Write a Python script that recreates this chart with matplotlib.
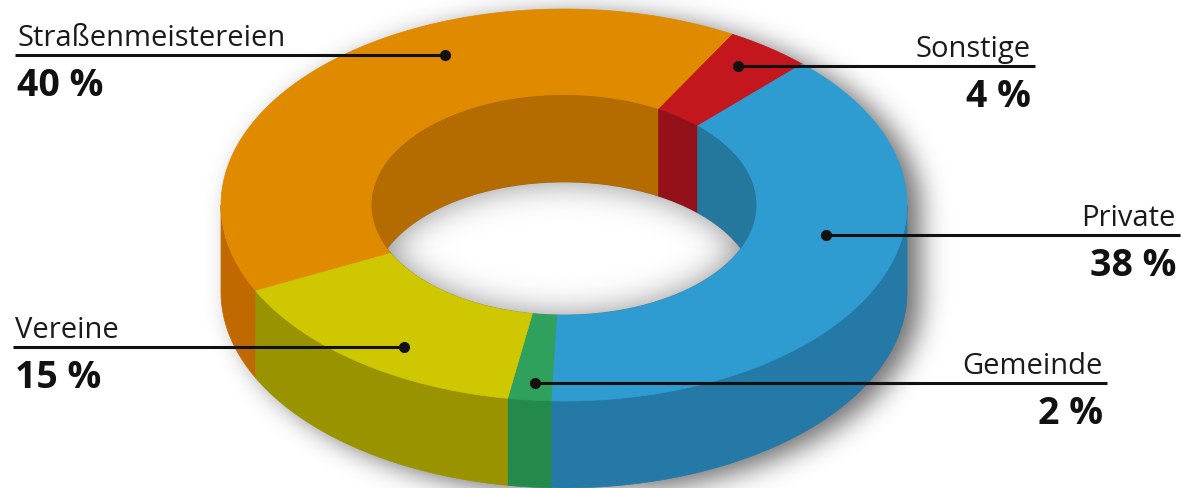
import numpy as np
import matplotlib.pyplot as plt
from matplotlib.patches import Polygon, Ellipse

plt.rcParams['font.family'] = ['Open Sans', 'DejaVu Sans']

# data
labels = ['Straßenmeistereien', 'Sonstige', 'Private', 'Gemeinde', 'Vereine']
values = [40, 4, 38, 2, 15]
pct_labels = ['40 %', '4 %', '38 %', '2 %', '15 %']
top_colors = ['#e08a00', '#c4161d', '#2e9bd1', '#2fa15d', '#cfc800']
side_colors = ['#c06900', '#9c1216', '#2479a7', '#238a4b', '#9a9300']
wall_colors = ['#b46c00', '#95111a', '#24789e', '#238a4b', '#9a9300']

# label layout: position of the dot inside the slice (fraction of slice, radius),
# line end x, side of text
dot_frac = [0.63, 0.42, 0.415, 0.44, 0.43]
dot_rad = [0.84, 0.87, 0.78, 0.91, 0.86]
line_end = [15, 1035, 1180, 1107, 13]
text_side = ['left', 'right', 'right', 'right', 'left']

W, H = 1182, 489
cx, cy = 564, 206
RX, RY = 343, 196
rin = 0.561
depth = 87
start = 206


def pt(ang, r, drop=0.0):
    a = np.radians(ang)
    return np.column_stack([cx + r * RX * np.cos(a), cy - r * RY * np.sin(a) + drop])


def clip_range(a0, a1, lo, hi):
    s, e = min(a0, hi), max(a1, lo)
    return (s, e) if s > e else None


def blur(img, sigma):
    k = np.arange(-3 * sigma, 3 * sigma + 1)
    k = np.exp(-k ** 2 / (2.0 * sigma ** 2))
    k /= k.sum()
    out = np.apply_along_axis(lambda r: np.convolve(r, k, mode='same'), 1, img)
    out = np.apply_along_axis(lambda c: np.convolve(c, k, mode='same'), 0, out)
    return out


fig = plt.figure(figsize=(W / 100, H / 100), dpi=100)
ax = fig.add_axes([0, 0, 1, 1])
ax.set_xlim(0, W)
ax.set_ylim(H, 0)
ax.axis('off')

yy, xx = np.mgrid[0:H, 0:W] + 0.5


def solid_mask(ox, oy):
    dx = (xx - cx - ox) / RX
    dy = yy - cy - oy
    dy = np.where(dy < 0, dy, np.where(dy > depth, dy - depth, 0)) / RY
    return (dx ** 2 + dy ** 2 <= 1).astype(float)


# visible floor of the hole
hx = (xx - cx) / (rin * RX)
floor = ((hx ** 2 + ((yy - cy) / (rin * RY)) ** 2 <= 1) &
         (hx ** 2 + ((yy - cy - depth) / (rin * RY)) ** 2 <= 1)).astype(float)

# soft shadow of the ring
sh = blur(solid_mask(14, 6), 13)
shadow = np.zeros((H, W, 4))
shadow[..., :3] = 0.25
shadow[..., 3] = 0.75 * sh * (1 - floor)
ax.imshow(shadow, extent=(0, W, H, 0), zorder=1, interpolation='bilinear')

sweeps = np.array(values) / sum(values) * 360
a_start = start - np.concatenate([[0], np.cumsum(sweeps)[:-1]])
a_end = a_start - sweeps

hole = Ellipse((cx, cy), 2 * rin * RX, 2 * rin * RY, transform=ax.transData)

for i in range(len(values)):
    # outer side (front half)
    for lo, hi in [(-180, 0), (180, 360)]:
        rng = clip_range(a_start[i], a_end[i], lo, hi)
        if rng:
            ang = np.linspace(rng[0], rng[1], 80)
            poly = np.vstack([pt(ang, 1), pt(ang[::-1], 1, depth)])
            ax.add_patch(Polygon(poly, closed=True, fc=side_colors[i], ec=side_colors[i], lw=0.5, zorder=2))
    # top face
    ang = np.linspace(a_start[i], a_end[i], 150)
    poly = np.vstack([pt(ang, 1), pt(ang[::-1], rin)])
    ax.add_patch(Polygon(poly, closed=True, fc=top_colors[i], ec=top_colors[i], lw=0.5, zorder=3))
    # inner wall (back half, seen through the hole)
    rng = clip_range(a_start[i], a_end[i], 0, 180)
    if rng:
        ang = np.linspace(rng[0], rng[1], 80)
        poly = np.vstack([pt(ang, rin), pt(ang[::-1], rin, depth)])
        p = Polygon(poly, closed=True, fc=wall_colors[i], ec=wall_colors[i], lw=0.5, zorder=3)
        ax.add_patch(p)
        p.set_clip_path(hole)

# grey shading on the floor of the hole, darker near the walls
fs = blur(floor, 16)
shade = np.zeros((H, W, 4))
shade[..., :3] = 0.45
shade[..., 3] = 0.8 * (1 - fs) * floor
ax.imshow(shade, extent=(0, W, H, 0), zorder=4, interpolation='bilinear')

# leader lines and labels
for i in range(len(values)):
    a = a_start[i] - dot_frac[i] * sweeps[i]
    dxy = pt(np.array([a]), dot_rad[i])[0]
    ax.plot([dxy[0], line_end[i]], [dxy[1], dxy[1]], color='#111111', lw=2.2,
            solid_capstyle='butt', zorder=5)
    ax.plot(dxy[0], dxy[1], 'o', color='#111111', ms=7, zorder=5)
    tx = line_end[i] + (2 if text_side[i] == 'left' else -4)
    ax.text(tx, dxy[1] - 10, labels[i], ha=text_side[i], va='baseline',
            fontsize=21, color='#1a1a1a', zorder=6)
    ax.text(tx, dxy[1] + 40, pct_labels[i], ha=text_side[i], va='baseline',
            fontsize=27, fontweight='bold', color='#111111', zorder=6)

fig.savefig('out.png', dpi=100, facecolor='white')
